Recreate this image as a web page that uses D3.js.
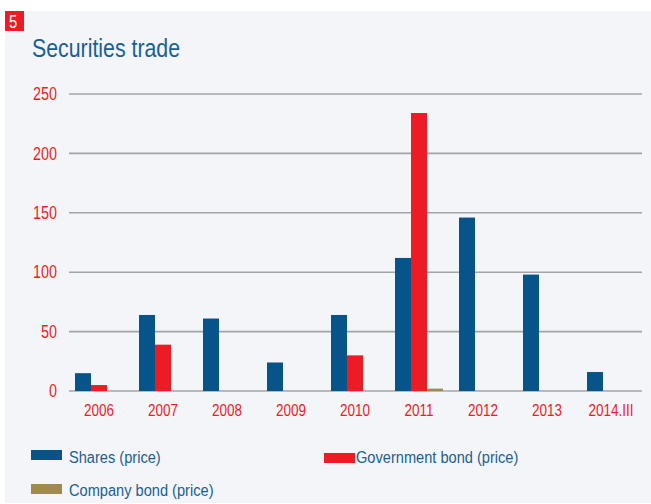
<!DOCTYPE html>
<html>
<head>
<meta charset="utf-8">
<script src="https://cdn.jsdelivr.net/npm/d3@7"></script>
<style>
  html, body { margin: 0; padding: 0; background: #ffffff; }
  svg { display: block; }
  text { font-family: "Liberation Sans", Arial, sans-serif; }
</style>
</head>
<body>
<svg id="chart" width="651" height="504"></svg>
<script>
// Categories (years) and series values
const years = ["2006", "2007", "2008", "2009", "2010", "2011", "2012", "2013", "2014.III"];
const sharesPrice = [15, 64, 61, 24, 64, 112, 146, 98, 16];
const governmentBondPrice = [5, 39, 0, 0, 30, 234, 0, 0, 0];
const companyBondPrice = [0, 0, 0, 0, 0, 2, 0, 0, 0];
const seriesNames = ["Shares (price)", "Government bond (price)", "Company bond (price)"];
const seriesColors = ["#07548b", "#ed1c24", "#a08a4f"];
const yTicks = [0, 50, 100, 150, 200, 250];

const series = [sharesPrice, governmentBondPrice, companyBondPrice];

// Horizontal squeeze that gives the regular sans a narrow look
const NARROW = 0.82;

const svg = d3.select("#chart");

// Text placed at (x, y) and condensed horizontally around that point
function narrowText(parent, x, y, size, squeeze = NARROW) {
  return parent.append("text")
    .attr("transform", `translate(${x},${y}) scale(${squeeze},1)`)
    .attr("font-size", size);
}

// Panel background
svg.append("rect")
  .attr("x", 5).attr("y", 11)
  .attr("width", 646).attr("height", 492)
  .attr("fill", "#f3f5f9");

// Figure number badge
svg.append("rect")
  .attr("x", 5).attr("y", 11)
  .attr("width", 19).attr("height", 20)
  .attr("fill", "#ed1c24");
narrowText(svg, 13, 28, 18)
  .attr("text-anchor", "middle")
  .attr("fill", "#ffffff")
  .text("5");

// Title
narrowText(svg, 32, 56.5, 26)
  .attr("fill", "#1a5f92")
  .text("Securities trade");

// Scales
const x = d3.scaleBand()
  .domain(years)
  .range([67, 643])
  .paddingInner(0.25)
  .paddingOuter(0.125);

const xs = d3.scaleBand()
  .domain(d3.range(series.length))
  .range([0, x.bandwidth()]);

const y = d3.scaleLinear()
  .domain([0, 250])
  .range([391, 94]);

// Horizontal gridlines
svg.append("g")
  .selectAll("line")
  .data(yTicks)
  .join("line")
  .attr("x1", 69).attr("x2", 642)
  .attr("y1", d => y(d)).attr("y2", d => y(d))
  .attr("stroke", "#a3a4a9")
  .attr("stroke-width", 1.6);

// Y axis labels
const yAxis = d3.axisLeft(y).tickValues(yTicks).tickSize(0).tickPadding(0);
const gy = svg.append("g").attr("transform", "translate(57,0)").call(yAxis);
gy.select(".domain").remove();
gy.selectAll("text")
  .attr("fill", "#ed1c24")
  .attr("font-size", 17.5)
  .attr("font-family", null)
  .attr("transform", `scale(${NARROW},1)`);

// Bars
const groups = svg.append("g")
  .selectAll("g")
  .data(years)
  .join("g")
  .attr("transform", d => `translate(${x(d)},0)`);

groups.selectAll("rect")
  .data((d, i) => series.map((s, k) => ({ k, v: s[i] })).filter(e => e.v > 0))
  .join("rect")
  .attr("x", e => xs(e.k))
  .attr("width", xs.bandwidth())
  .attr("y", e => y(e.v))
  .attr("height", e => y(0) - y(e.v))
  .attr("fill", e => seriesColors[e.k]);

// X axis labels
const xAxis = d3.axisBottom(x).tickSize(0).tickPadding(0);
const gx = svg.append("g").attr("transform", "translate(0,404)").call(xAxis);
gx.select(".domain").remove();
gx.selectAll("text")
  .attr("fill", "#ed1c24")
  .attr("font-size", 16.5)
  .attr("font-family", null)
  .attr("transform", `scale(${NARROW},1)`);

// Legend
const legendItems = [
  { name: seriesNames[0], color: seriesColors[0], sx: 31, sy: 450, tx: 69, ty: 463 },
  { name: seriesNames[1], color: seriesColors[1], sx: 324, sy: 453, tx: 356, ty: 463 },
  { name: seriesNames[2], color: seriesColors[2], sx: 31, sy: 484, tx: 69, ty: 495.5 }
];
const legend = svg.append("g");
legend.selectAll("rect")
  .data(legendItems)
  .join("rect")
  .attr("x", d => d.sx).attr("y", d => d.sy)
  .attr("width", 31).attr("height", 10)
  .attr("fill", d => d.color);
legendItems.forEach(d => {
  narrowText(legend, d.tx, d.ty, 17.3, 0.845)
    .attr("fill", "#1a5f92")
    .text(d.name);
});
</script>
</body>
</html>
